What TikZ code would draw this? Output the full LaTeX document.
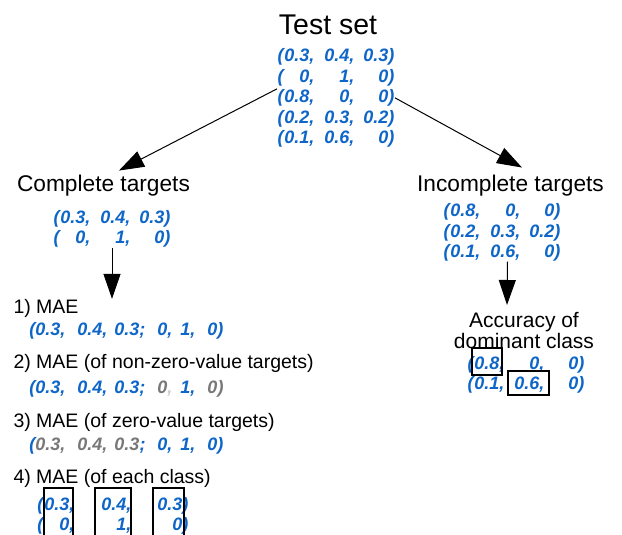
\documentclass[tikz,border=0pt]{standalone}
\usepackage{fontspec}
\setmainfont{Liberation Sans}
\usetikzlibrary{arrows.meta}
\definecolor{valblue}{RGB}{14,102,200}
\definecolor{valgray}{RGB}{120,120,120}
\definecolor{commagray}{RGB}{205,205,205}
% one row of a target matrix
\newcommand\vrow[3]{\makebox[37pt]{(\hfill#1,}\makebox[40pt][r]{#2,}\makebox[40pt][r]{#3)}}
% wider row, for the per-class boxes
\newcommand\crow[3]{\makebox[37pt]{(\hfill#1,}\makebox[57pt][r]{#2,}\makebox[57pt][r]{#3)}}
% flattened row for the MAE lines
\newcommand\mrow[6]{\makebox[36pt][r]{#1}\makebox[42pt][r]{#2}\makebox[38pt][r]{#3}%
  \makebox[27pt][r]{#4}\makebox[23pt][r]{#5}\makebox[28pt][r]{#6}}
\newcommand\gr[1]{\textcolor{valgray}{#1}}
\begin{document}
\begin{tikzpicture}[x=1pt,y=-1pt,line width=1pt,
  >={Triangle[length=25pt,width=17pt]},
  head/.style={font=\fontsize{22.7}{26}\selectfont,inner sep=0pt,anchor=base},
  item/.style={font=\fontsize{19.5}{23}\selectfont,inner sep=0pt,anchor=base west},
  vals/.style={font=\fontsize{18}{20.5}\selectfont\bfseries\itshape,text=valblue,
    inner sep=0pt,align=left,anchor=base west},
  pick/.style={line width=1.6pt}]
  \path[use as bounding box,fill=white] (0,0) rectangle (622,535);
  % test set (multi-line nodes sit on their last baseline)
  \node[head,font=\fontsize{28.5}{32}\selectfont] (title) at (328,35) {Test set};
  \node[vals] (tsm) at (277,143.5) {\vrow{0.3}{0.4}{0.3}\\ \vrow{0}{1}{0}\\
    \vrow{0.8}{0}{0}\\ \vrow{0.2}{0.3}{0.2}\\ \vrow{0.1}{0.6}{0}};
  % complete targets
  \node[head] (comp) at (103.5,191) {Complete targets};
  \node[vals] (cm) at (53,243.5) {\vrow{0.3}{0.4}{0.3}\\ \vrow{0}{1}{0}};
  \node[item] (mae1) at (13,313.5) {1) MAE};
  \node[vals] (r1) at (29,335) {\mrow{(0.3,}{0.4,}{0.3;}{0,}{1,}{0)}};
  \node[item] (mae2) at (13,368) {2) MAE (of non-zero-value targets)};
  \node[vals] (r2) at (29,393) {\mrow{(0.3,}{0.4,}{0.3;}{\gr{0}\textcolor{commagray}{,}}{1,}{\gr{0)}}};
  \node[item] (mae3) at (13,427) {3) MAE (of zero-value targets)};
  \node[vals] (r3) at (29,450) {\mrow{(\gr{0.3,}}{\gr{0.4,}}{\gr{0.3};}{0,}{1,}{0)}};
  \node[item] (mae4) at (13,483) {4) MAE (of each class)};
  \node[vals] (r4) at (37,530.5) {\crow{0.3}{0.4}{0.3}\\ \crow{0}{1}{0}};
  \draw[pick] (44,488) rectangle (73,545);
  \draw[pick] (95,488) rectangle (131,545);
  \draw[pick] (153,488) rectangle (184,545);
  % incomplete targets
  \node[head] (inc) at (510.5,191) {Incomplete targets};
  \node[vals] (im) at (443,257.5) {\vrow{0.8}{0}{0}\\ \vrow{0.2}{0.3}{0.2}\\ \vrow{0.1}{0.6}{0}};
  \node[head,font=\fontsize{21}{21}\selectfont,align=center] (acc) at (524,348)
    {Accuracy of\\ dominant class};
  \node[vals] (am) at (467,389.5) {\vrow{0.8}{0}{0}\\ \vrow{0.1}{0.6}{0}};
  \draw[pick] (472,348) rectangle (502,375);
  \draw[pick] (508,371) rectangle (549,395);
  % arrows
  \coordinate (acctip) at (507,305);
  \draw[->] ([yshift=9pt]tsm.west) -- ([xshift=15.5pt,yshift=3.5pt]comp.north);
  \draw[->] (tsm.east) -- ([xshift=11.5pt,yshift=6.5pt]inc.north);
  \draw[->] (cm.south) -- (cm.south |- mae1.north);
  \draw[->] ([xshift=5.5pt]im.south) -- (acctip);
\end{tikzpicture}
\end{document}
